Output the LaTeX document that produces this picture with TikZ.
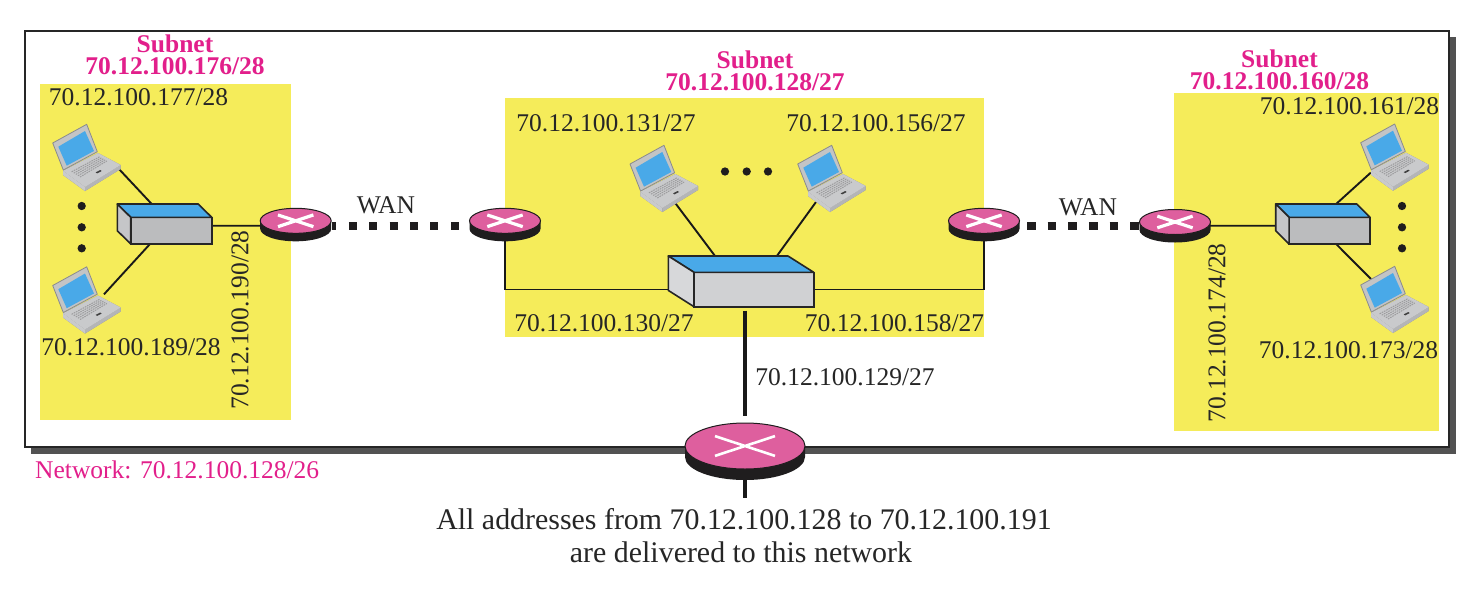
\documentclass[tikz,border=0pt]{standalone}
\usepackage{fontspec}
\setmainfont{Liberation Serif}
\usetikzlibrary{shapes.geometric,calc}
\pgfdeclarelayer{bgl}\pgfdeclarelayer{linkl}
\pgfsetlayers{bgl,linkl,main}
\definecolor{ymain}{HTML}{F5EC5A}
\definecolor{mag}{HTML}{E21F8B}
\definecolor{rpink}{HTML}{DE5F9E}
\definecolor{rdark}{HTML}{1F1D1E}
\definecolor{swblue}{HTML}{49A9E8}
\definecolor{lapblue}{HTML}{49A9E8}
\definecolor{lapg}{HTML}{B4B5B7}
\definecolor{lapl}{HTML}{C9CACC}
\definecolor{lapd}{HTML}{8A8B8D}
\definecolor{swg}{HTML}{BBBCBE}
\definecolor{swl}{HTML}{D0D1D3}
\tikzset{
 lbl/.style={inner sep=0pt,text=black!85,font=\fontsize{25.5}{27}\selectfont},
 sub/.style={inner sep=0pt,text=mag,font=\fontsize{25.5}{21.5}\selectfont\bfseries,align=center},
 big/.style={inner sep=0pt,text=black!85,font=\fontsize{29.9}{33}\selectfont},
 net/.style={inner sep=0pt,text=mag,font=\fontsize{25.5}{27}\selectfont},
 yel/.style={fill=ymain,draw=none},
 link/.style={draw=black!90,line width=1.9pt},
 tlink/.style={draw=black!90,line width=3.2pt},
 wanl/.style={draw=rdark,line width=8pt},
 dotmark/.style={circle,fill=rdark,inner sep=0pt,minimum size=8.3pt},
 laptop/.pic={
   \coordinate (-a) at (65.6,25.3);
   \coordinate (-b) at (51.3,8.8);
   \coordinate (-c) at (45,38.7);
   \coordinate (-d) at (18.3,38);
   \coordinate (-e) at (10,30);
   \coordinate (-f) at (10.3,-6);
   % base
   \fill[lapd] (10.3,27.7) -- (10.3,32) -- (32.3,48) -- (68,26) -- (68,22) -- (45.3,10) -- cycle;
   \fill[lapl] (10.3,32) -- (32.3,48) -- (32.3,44) -- (10.3,27.7) -- cycle;
   \fill[lapg] (32.3,48) -- (68,26) -- (68,22) -- (32.3,44) -- cycle;
   \fill[lapl] (10.3,27.7) -- (45.3,10) -- (68,22) -- (32.3,44) -- cycle;
   % keys
   \foreach \t in {0.14,0.24,0.34,0.44,0.54}{
     \draw[lapd!85!white,line width=1pt,dash pattern=on 1.6pt off .9pt]
       ($(16,27)!\t!(37,40)$) -- ($(45,12)!\t!(62,23)$);
   }
   \fill[black!75] (43,29.4) -- (47.5,27) -- (49,28) -- (44.5,30.4) -- cycle;
   % lid
   \fill[lapg!80!white] (0,0) -- (34,-18.7) -- (44.6,8.7) -- (10.6,27) -- cycle;
   \draw[lapd,line width=.8pt,line join=round] (0,0) -- (34,-18.7) -- (44.6,8.7) -- (10.6,27) -- cycle;
   \fill[lapblue] (5.6,3.7) -- (32.3,-12) -- (41.3,8) -- (14,22.7) -- cycle;
 }
}
\newcommand{\routernode}[8]{%
 \path[fill=rdark] ({#2-#4},{#3}) -- ({#2-#4},{#3+#6}) arc[start angle=180,end angle=360,x radius=#4pt,y radius=#5pt] -- ({#2+#4},{#3}) -- cycle;
 \node[ellipse,fill=rpink,draw=rdark,line width=1pt,inner sep=0pt,minimum width=2*#4pt,minimum height=2*#5pt] (#1) at (#2,#3) {};
 \draw[white,line width=#8pt] ({#2-#7},{#3+0.33*#7}) -- ({#2+#7},{#3-0.33*#7}) ({#2-#7},{#3-0.33*#7}) -- ({#2+#7},{#3+0.33*#7});
}
% name, front left x, front top y, front w, front h, dx, dy, front colour
\newcommand{\switchnode}[8]{%
 \node[rectangle,draw=black!85,line width=1.6pt,fill=#8,inner sep=0pt,minimum width=#4pt,minimum height=#5pt,outer sep=0pt] (#1) at ({#2+#4/2},{#3+#5/2}) {};
 \path[fill=swblue,draw=black!85,line width=1.6pt,line join=round] (#2,#3) -- ({#2-#6},{#3-#7}) -- ({#2+#4-#6},{#3-#7}) -- ({#2+#4},{#3}) -- cycle;
 \path[fill=#8!85!white,draw=black!85,line width=1.6pt,line join=round] (#2,#3) -- ({#2-#6},{#3-#7}) -- ({#2-#6},{#3+#5-#7}) -- (#2,{#3+#5}) -- cycle;
}
\begin{document}
\begin{tikzpicture}[x=1pt,y=-1pt]
\useasboundingbox (0,0) rectangle (1476,592);
\begin{pgfonlayer}{bgl}
 \fill[black!68] (31,37) rectangle (1456,454);
 \node[rectangle,fill=white,draw=black!85,line width=2.2pt,inner sep=0pt,minimum width=1424pt,minimum height=416pt] (frame) at (737,239) {};
 \node[yel,inner sep=0pt,minimum width=251pt,minimum height=336pt] (yl) at (165.5,252) {};
 \node[yel,inner sep=0pt,minimum width=479pt,minimum height=239pt] (yc) at (744.5,217.5) {};
 \node[yel,inner sep=0pt,minimum width=265pt,minimum height=338pt] (yr) at (1306.5,262) {};
\end{pgfonlayer}

% routers
\routernode{r1}{295.7}{220.8}{35.5}{12.5}{8}{17.7}{3.2}
\routernode{r2}{505}{220.8}{35.5}{12.5}{8}{17.7}{3.2}
\routernode{r3}{984}{220.8}{35.5}{12.5}{8}{17.7}{3.2}
\routernode{r4}{1175}{222}{35.5}{12.5}{8}{17.7}{3.2}
\routernode{r0}{745}{446}{60}{23}{11}{30}{2.6}

% switches
\switchnode{s1}{130.7}{217.3}{81}{26.7}{13.4}{13.3}{swg}
\switchnode{s2}{1289.1}{217.3}{81}{26.7}{13.4}{13.3}{swg}
\switchnode{s0}{694}{272.3}{119.7}{34.4}{25.7}{16.3}{swl}

% laptops
\pic (l1) at (52.7,143) {laptop};
\pic (l2) at (52.7,285.5) {laptop};
\pic (l3) at (630,164) {laptop};
\pic (l4) at (797.7,164) {laptop};
\pic (l5) at (1360.7,142.7) {laptop};
\pic (l6) at (1360.7,285) {laptop};

% connectors
\begin{pgfonlayer}{linkl}
 \draw[wanl,dash pattern=on 8pt off 12.4pt,dash phase=3.3pt] ([yshift=-4.9pt]r1.east) -- ([yshift=-4.9pt]r2.west);
 \draw[wanl,dash pattern=on 8.6pt off 12pt,dash phase=13.5pt] ([yshift=-4.9pt]r3.east) -- ([yshift=-3.7pt]r4.west);
 \draw[link] ([yshift=-4.9pt]r1.center) -- ([yshift=4.9pt]s1.east);
 \draw[link] ([yshift=-3.7pt]r4.center) -- ([yshift=4.9pt,xshift=-13.4pt]s2.west);
 \draw[link] (r2.center) |- ([xshift=-25.7pt]s0.west);
 \draw[link] (r3.center) |- (s0.east);
 \draw[link] (l1-a) -- ([xshift=-19.5pt,yshift=13.3pt]s1.north);
 \draw[link] (l2-b) -- ([xshift=-21.2pt]s1.south);
 \draw[link] (l3-c) -- ([xshift=-38.8pt,yshift=16.3pt]s0.north);
 \draw[link] (l4-d) -- ([xshift=23pt,yshift=16.3pt]s0.north);
 \draw[link] (l5-e) -- ([xshift=47pt,yshift=13.3pt]s2.north west);
 \draw[link] (l6-f) -- ([xshift=47pt]s2.south west);
 \coordinate (t0) at (745,310.5);
 \coordinate (t1) at (745,416);
 \coordinate (t2) at (745,498);
 \draw[tlink] (t0) -- (t1);
 \draw[tlink] (r0.south) -- (t2);
\end{pgfonlayer}

% dots
\foreach \n/\px/\py in {a/81.7/206,b/81.7/227.3,c/81.7/248.3,d/1402/206,e/1402/227.3,f/1402/248.3,g/725/171.5,h/746.7/171.5,i/768/171.5}
 \node[dotmark] (dot\n) at (\px,\py) {};

% labels
\node[sub] (sa) at (175,55) {Subnet\\70.12.100.176/28};
\node[sub] (sb) at (755,71) {Subnet\\70.12.100.128/27};
\node[sub] (sc) at (1279.5,70) {Subnet\\70.12.100.160/28};
\node[lbl] (t177) at (138.5,97) {70.12.100.177/28};
\node[lbl] (t189) at (131,347) {70.12.100.189/28};
\node[lbl,rotate=90] (t190) at (240,320) {70.12.100.190/28};
\node[lbl] (t131) at (606,123) {70.12.100.131/27};
\node[lbl] (t156) at (876,123) {70.12.100.156/27};
\node[lbl] (t130) at (604,323) {70.12.100.130/27};
\node[lbl] (t158) at (894.5,323) {70.12.100.158/27};
\node[lbl] (t129) at (845,377) {70.12.100.129/27};
\node[lbl] (w1) at (386,205) {WAN};
\node[lbl] (w2) at (1088,207) {WAN};
\node[lbl] (t161) at (1349.5,106) {70.12.100.161/28};
\node[lbl] (t173) at (1348.5,350) {70.12.100.173/28};
\node[lbl,rotate=90] (t174) at (1217,333) {70.12.100.174/28};
\node[net,anchor=west] (nw) at (35,470) {Network: 70.12.100.128/26};
\node[big] (bt1) at (744,519) {All addresses from 70.12.100.128 to 70.12.100.191};
\node[big] (bt2) at (741,552) {are delivered to this network};
\end{tikzpicture}
\end{document}
